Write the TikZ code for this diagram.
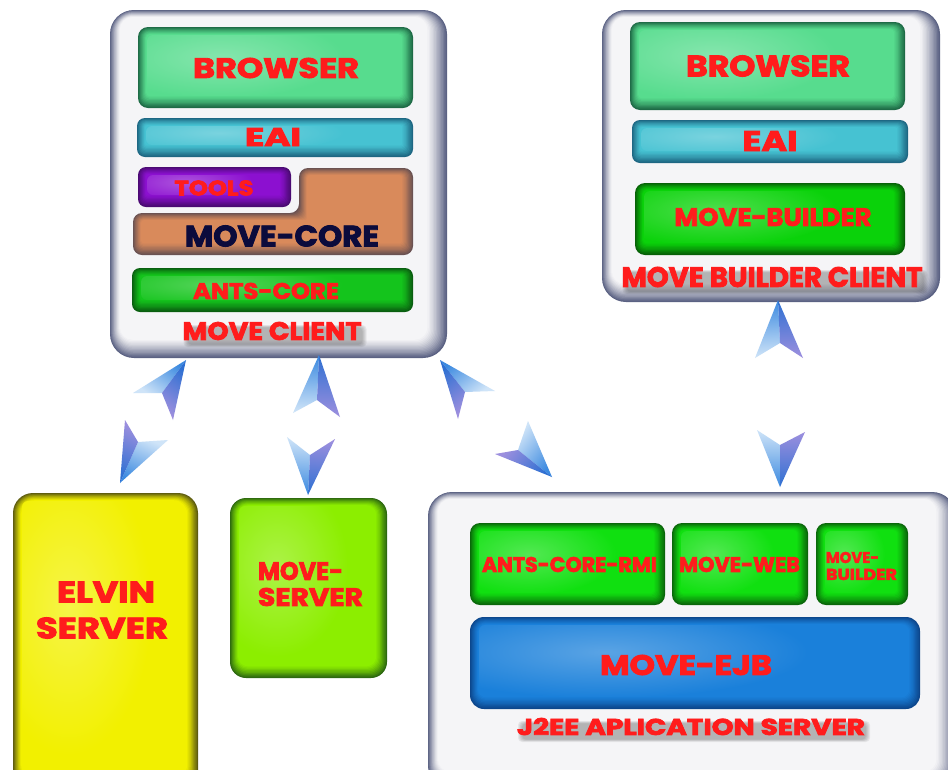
\documentclass[tikz,border=0pt]{standalone}
\usepackage{fontspec}
\usepackage{graphicx}
\newfontfamily\heavy{Poppins}[UprightFont=* Bold, FakeBold=3]
\usetikzlibrary{calc}

% palette
\definecolor{redtxt}{HTML}{FF1C1C}
\definecolor{navytxt}{HTML}{0B0B3C}
\definecolor{browserBase}{HTML}{57DC8E}\definecolor{browserEdge}{HTML}{1E6B46}
\definecolor{eaiBase}{HTML}{46C2D2}\definecolor{eaiEdge}{HTML}{1E6783}
\definecolor{toolsBase}{HTML}{8C10D0}\definecolor{toolsEdge}{HTML}{4A0A72}
\definecolor{coreBase}{HTML}{D98A5B}\definecolor{coreEdge}{HTML}{6B5252}
\definecolor{antsBase}{HTML}{14C41C}\definecolor{antsEdge}{HTML}{0A5E10}
\definecolor{mbBase}{HTML}{0AD20A}\definecolor{mbEdge}{HTML}{076007}
\definecolor{grnBase}{HTML}{10E010}\definecolor{grnEdge}{HTML}{0A660A}
\definecolor{ejbBase}{HTML}{1A80DA}\definecolor{ejbEdge}{HTML}{0C468C}
\definecolor{elvinBase}{HTML}{F2F000}\definecolor{elvinEdge}{HTML}{5E5C10}
\definecolor{msBase}{HTML}{8CEE00}\definecolor{msEdge}{HTML}{2E6A10}
\definecolor{outerBase}{HTML}{F5F5F7}\definecolor{outerEdge}{HTML}{5B6283}
\definecolor{tipA}{HTML}{3C8AE0}\definecolor{baseA}{HTML}{CFE4F8}
\definecolor{tipB}{HTML}{2E70D2}\definecolor{baseB}{HTML}{9C8FDE}

\tikzset{
  boxnode/.style={inner sep=0pt, draw=none},
  lbltext/.style={inner sep=0pt},
}

% glossy coloured box: [radius]{name}{x1}{y1}{x2}{y2}{base}{edge}
\newcommand\gbox[8][10]{%
  \foreach \i in {0,...,9}{%
    \pgfmathsetmacro\mix{100*(1-\i/9)^1.25}%
    \pgfmathsetmacro\rr{max(#1-\i*0.7,2)}%
    \fill[#8!\mix!#7, rounded corners=\rr pt]
      (#3+\i*0.9,#4+\i*0.8) rectangle (#5-\i*1.2,#6-\i*1.3);
  }%
  % soft highlight towards the upper left
  \begin{scope}
    \clip[rounded corners=6pt] (#3+9,#4+8) rectangle (#5-12,#6-12);
    \shade[inner color=white!28!#7, outer color=#7]
      ({#3+(#5-#3)*0.3},{#4+(#6-#4)*0.38}) ellipse ({(#5-#3)*0.45} and {(#6-#4)*0.5});
  \end{scope}
  \pgfmathsetmacro\bw{#5-#3}\pgfmathsetmacro\bh{#6-#4}%
  \node[boxnode, minimum width=\bw pt, minimum height=\bh pt] (#2) at ({(#3+#5)/2},{(#4+#6)/2}) {};
}

% bevelled container: {name}{x1}{y1}{x2}{y2}
\newcommand\obox[5]{%
  \foreach \i in {0,...,14}{%
    \pgfmathsetmacro\mix{100*(1-\i/14)^1.3}%
    \pgfmathsetmacro\rr{max(24-\i*0.8,4)}%
    \fill[outerEdge!\mix!outerBase, rounded corners=\rr pt]
      (#2+\i*0.7,#3+\i*0.5) rectangle (#4-\i*1.4,#5-\i*1.3);
  }%
  \pgfmathsetmacro\bw{#4-#2}\pgfmathsetmacro\bh{#5-#3}%
  \node[boxnode, minimum width=\bw pt, minimum height=\bh pt] (#1) at ({(#2+#4)/2},{(#3+#5)/2}) {};
}

% label scaled to a given cap width/height: {name}{x,y}{w}{h}{colour}{text}
\newcommand\lbl[6]{%
  \node[lbltext, text=#5] (#1) at (#2) {\resizebox{#3pt}{#4pt}{\heavy #6}};
}
% label over a soft dark smudge: {name}{x,y}{w}{h}{colour}{text}
\newcommand\slbl[6]{%
  \foreach \k in {0,...,4}{%
    \fill[black, opacity=0.06, rounded corners=4pt]
      ($(#2)+({-#3/2+1+\k},{-#4/2+3+\k*0.6})$) rectangle ($(#2)+({#3/2+5-\k},{#4/2+7-\k*0.6})$);
  }%
  \lbl{#1}{#2}{#3}{#4}{#5}{#6}%
}

% arrowhead: tip, light barb, notch, dark barb (x,y pairs)
\newcommand\arrowhead[8]{%
  \pgfmathsetmacro\ang{atan2(-(#2-#6),#1-#5)-90}%
  \shade[top color=tipA, bottom color=baseA, shading angle=\ang] (#1,#2) -- (#3,#4) -- (#5,#6) -- cycle;
  \shade[top color=tipB, bottom color=baseB, shading angle=\ang] (#1,#2) -- (#5,#6) -- (#7,#8) -- cycle;
}

\begin{document}
\begin{tikzpicture}[x=1pt,y=-1pt]
\useasboundingbox (0,0) rectangle (948,769);
\clip (0,0) rectangle (948,769);
\fill[white] (0,0) rectangle (948,769);

% ---------------- MOVE client ----------------
\obox{client}{110}{10}{447}{358}
\gbox{browserL}{138}{27}{413}{108}{browserBase}{browserEdge}
\gbox[8]{eaiL}{137}{118}{413}{157}{eaiBase}{eaiEdge}
\gbox[8]{tools}{138}{167}{291}{207}{toolsBase}{toolsEdge}
% L-shaped core block
\foreach \i in {0,...,9}{%
  \pgfmathsetmacro\mix{100*(1-\i/9)^1.25}%
  \pgfmathsetmacro\rr{max(9-\i*0.7,2)}%
  \fill[coreEdge!\mix!coreBase, rounded corners=\rr pt]
    (299+\i*0.9,168+\i*0.8) -- (413-\i*1.2,168+\i*0.8) -- (413-\i*1.2,255-\i*1.3)
    -- (133+\i*0.9,255-\i*1.3) -- (133+\i*0.9,213+\i*0.8) -- (299+\i*0.9,213+\i*0.8) -- cycle;
}
\node[boxnode, minimum width=280pt, minimum height=87pt] (core) at (273,211.5) {};
\gbox[8]{antsL}{132}{268}{413}{312}{antsBase}{antsEdge}

\lbl{tBrowserL}{276,68}{166}{20}{redtxt}{BROWSER}
\lbl{tEaiL}{273,137}{56}{18}{redtxt}{EAI}
\lbl{tTools}{214,188}{79}{15}{redtxt}{TOOLS}
\lbl{tCore}{282,236}{194}{21}{navytxt}{MOVE-CORE}
\lbl{tAnts}{266,291}{146}{16}{redtxt}{ANTS-CORE}
\slbl{tClient}{272,331}{179}{18}{redtxt}{MOVE CLIENT}

% ---------------- MOVE builder client ----------------
\obox{builder}{602}{10}{940}{302}
\gbox{browserR}{630}{22}{905}{110}{browserBase}{browserEdge}
\gbox[8]{eaiR}{632}{120}{908}{163}{eaiBase}{eaiEdge}
\gbox{mbuilder}{635}{183}{905}{255}{mbBase}{mbEdge}

\lbl{tBrowserR}{768,66}{164}{21}{redtxt}{BROWSER}
\lbl{tEaiR}{770,141}{55}{20}{redtxt}{EAI}
\lbl{tMB}{773,217}{197}{18}{redtxt}{MOVE-BUILDER}
\slbl{tBuilder}{772,277}{301}{20}{redtxt}{MOVE BUILDER CLIENT}

% ---------------- servers ----------------
\gbox[20]{elvin}{13}{493}{198}{790}{elvinBase}{elvinEdge}
\lbl{tElvin1}{106,592}{98}{21}{redtxt}{ELVIN}
\lbl{tElvin2}{102,628}{132}{21}{redtxt}{SERVER}

\gbox[16]{mserver}{230}{498}{387}{678}{msBase}{msEdge}
\lbl{tMs1}{300.5,571}{85}{18}{redtxt}{MOVE-}
\lbl{tMs2}{310.5,597}{105}{18}{redtxt}{SERVER}

% ---------------- J2EE application server ----------------
\obox{j2ee}{428}{492}{956}{790}
\gbox{rmi}{470}{523}{665}{605}{grnBase}{grnEdge}
\gbox{web}{672}{523}{808}{605}{grnBase}{grnEdge}
\gbox{mbsrv}{816}{523}{908}{605}{grnBase}{grnEdge}
\gbox[14]{ejb}{470}{617}{920}{709}{ejbBase}{ejbEdge}

\lbl{tRmi}{569.5,564.5}{175}{15}{redtxt}{ANTS-CORE-RMI}
\lbl{tWeb}{739.5,564.5}{121}{15}{redtxt}{MOVE-WEB}
\lbl{tMbs1}{852.5,557.5}{53}{11}{redtxt}{MOVE-}
\lbl{tMbs2}{861.5,574.5}{71}{11}{redtxt}{BUILDER}
\lbl{tEjb}{686,665}{172}{20}{redtxt}{MOVE-EJB}
\slbl{tJ2ee}{691,726.5}{348}{17}{redtxt}{J2EE APLICATION SERVER}

% ---------------- arrowheads ----------------
% client <-> elvin
\arrowhead{186}{360}{133}{393}{162}{393}{173}{420}
\arrowhead{120}{483}{168}{440}{138}{442}{125}{420}
% client <-> move-server
\arrowhead{319}{355}{293}{413}{317}{400}{340}{417}
\arrowhead{308}{495}{287}{437}{310}{455}{335}{439}
% client <-> j2ee
\arrowhead{440}{360}{495}{391}{465}{392}{458}{419}
\arrowhead{552}{477}{528}{421}{518}{450}{495}{454}
% builder client <-> j2ee
\arrowhead{778}{300}{755}{358}{780}{343}{803}{358}
\arrowhead{780}{487}{757}{430}{780}{445}{805}{432}
\end{tikzpicture}
\end{document}
